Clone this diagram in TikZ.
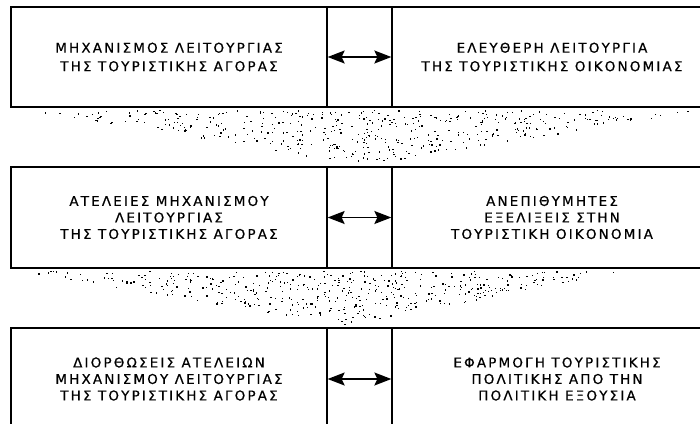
\documentclass[tikz,border=0pt]{standalone}
\usepackage{fontspec}
\setmainfont{DejaVu Sans}[LetterSpace=16,FakeBold=0.6]
\usetikzlibrary{arrows.meta}
\begin{document}
\begin{tikzpicture}[x=1pt,y=-1pt,
  cell/.style={draw, line width=1.3pt, inner sep=0pt, align=center,
    font=\fontsize{13.5}{16.5}\selectfont},
  dbl/.style={line width=1.4pt,
    arrows={Stealth[length=17pt,width=13pt,inset=3pt]-Stealth[length=17pt,width=13pt,inset=3pt]}},
  speck/.style={fill=black}]
\useasboundingbox (0,0) rectangle (700,423);
\clip (0,0) rectangle (700,423);
% row 1
\node[cell, minimum width=316pt, minimum height=100pt] (L1) at (169,57)
  {ΜΗΧΑΝΙΣΜΟΣ ΛΕΙΤΟΥΡΓΙΑΣ\\[2pt]ΤΗΣ ΤΟΥΡΙΣΤΙΚΗΣ ΑΓΟΡΑΣ};
\node[cell, minimum width=65pt, minimum height=100pt] (M1) at (359.5,57) {};
\node[cell, minimum width=320pt, minimum height=100pt] (R1) at (552,57)
  {ΕΛΕΥΘΕΡΗ ΛΕΙΤΟΥΡΓΙΑ\\[2pt]ΤΗΣ ΤΟΥΡΙΣΤΙΚΗΣ ΟΙΚΟΝΟΜΙΑΣ};
\draw[dbl] (L1.east) -- (R1.west);
% row 2
\node[cell, minimum width=316pt, minimum height=101pt] (L2) at (169,217.5)
  {ΑΤΕΛΕΙΕΣ ΜΗΧΑΝΙΣΜΟΥ\\ΛΕΙΤΟΥΡΓΙΑΣ\\ΤΗΣ ΤΟΥΡΙΣΤΙΚΗΣ ΑΓΟΡΑΣ};
\node[cell, minimum width=65pt, minimum height=101pt] (M2) at (359.5,217.5) {};
\node[cell, minimum width=320pt, minimum height=101pt] (R2) at (552,217.5)
  {ΑΝΕΠΙΘΥΜΗΤΕΣ\\ΕΞΕΛΙΞΕΙΣ ΣΤΗΝ\\ΤΟΥΡΙΣΤΙΚΗ ΟΙΚΟΝΟΜΙΑ};
\draw[dbl] (L2.east) -- (R2.west);
% row 3
\node[cell, minimum width=316pt, minimum height=102pt] (L3) at (169,379)
  {ΔΙΟΡΘΩΣΕΙΣ ΑΤΕΛΕΙΩΝ\\ΜΗΧΑΝΙΣΜΟΥ ΛΕΙΤΟΥΡΓΙΑΣ\\ΤΗΣ ΤΟΥΡΙΣΤΙΚΗΣ ΑΓΟΡΑΣ};
\node[cell, minimum width=65pt, minimum height=102pt] (M3) at (359.5,379) {};
\node[cell, minimum width=320pt, minimum height=102pt] (R3) at (552,379)
  {\hspace*{10pt}ΕΦΑΡΜΟΓΗ ΤΟΥΡΙΣΤΙΚΗΣ\\\hspace*{10pt}ΠΟΛΙΤΙΚΗΣ ΑΠΟ ΤΗΝ\\\hspace*{10pt}ΠΟΛΙΤΙΚΗ ΕΞΟΥΣΙΑ};
\draw[dbl] (L3.east) -- (R3.west);
% stippled funnels between rows
\pgfmathsetseed{7}
\foreach \i in {1,...,440}{
  \pgfmathsetmacro{\u}{rnd}\pgfmathsetmacro{\v}{rnd}
  \pgfmathsetmacro{\uu}{(\u+\v>1)?1-\u:\u}
  \pgfmathsetmacro{\vv}{(\u+\v>1)?1-\v:\v}
  \pgfmathsetmacro{\px}{30+\uu*(700-30)+\vv*(365-30)}
  \pgfmathsetmacro{\py}{110+\vv*(165-110)}
  \fill[speck] (\px,\py) rectangle ++(1.3,1.3);
}
\foreach \i in {1,...,440}{
  \pgfmathsetmacro{\u}{rnd}\pgfmathsetmacro{\v}{rnd}
  \pgfmathsetmacro{\uu}{(\u+\v>1)?1-\u:\u}
  \pgfmathsetmacro{\vv}{(\u+\v>1)?1-\v:\v}
  \pgfmathsetmacro{\px}{20+\uu*(620-20)+\vv*(345-20)}
  \pgfmathsetmacro{\py}{271+\vv*(325-271)}
  \fill[speck] (\px,\py) rectangle ++(1.3,1.3);
}
\end{tikzpicture}
\end{document}
